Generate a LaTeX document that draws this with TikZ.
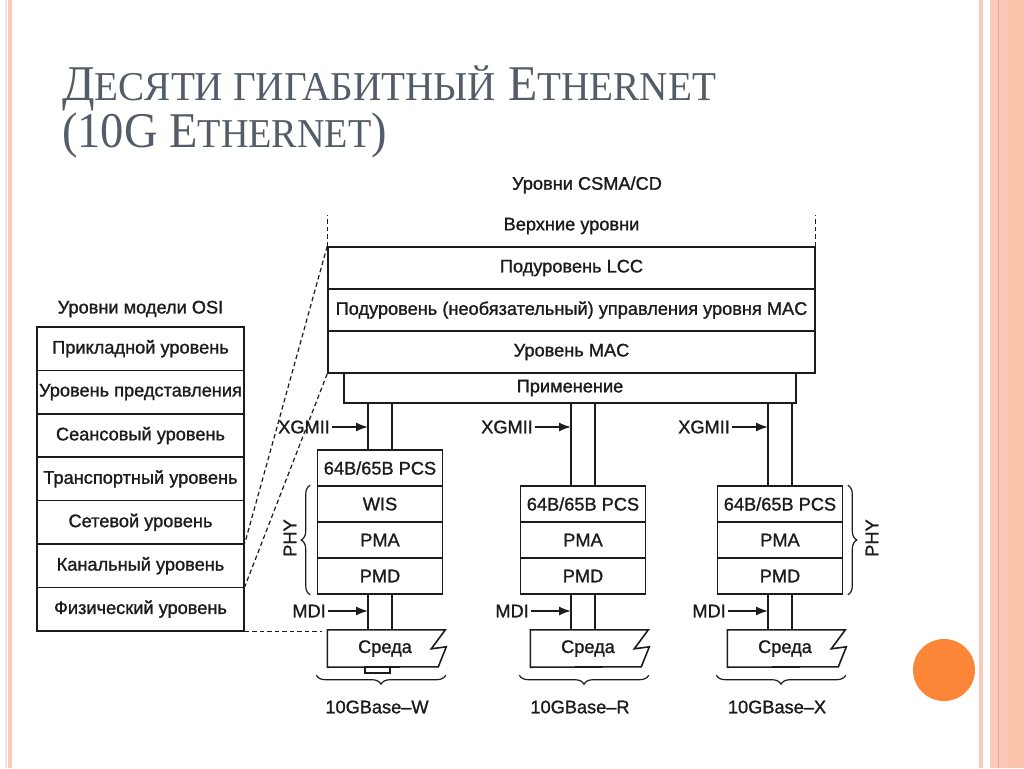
\documentclass[tikz,border=0pt]{standalone}
\usepackage{graphicx}
\usepackage{fontspec}
\setmainfont{Liberation Serif}
\newfontfamily\diagfont[FakeBold=1.2]{Liberation Sans}
\usetikzlibrary{arrows.meta,decorations.pathreplacing}
\definecolor{titlegray}{RGB}{84,92,104}
\definecolor{edgepink}{RGB}{250,201,185}
\definecolor{edgebeige}{RGB}{246,228,214}
\definecolor{edgeline}{RGB}{232,162,134}
\definecolor{dotorange}{RGB}{252,134,56}
\definecolor{ink}{RGB}{28,28,28}
\newcommand\smcap[1]{{\fontsize{41}{41}\selectfont #1}}

\begin{document}
\begin{tikzpicture}[x=1pt, y=-1pt,
  every node/.style={font=\diagfont\fontsize{18.2}{20}\selectfont, text=ink, inner sep=0pt},
  osi/.style={draw=ink, line width=1.6pt, minimum width=207pt, minimum height=43.4pt},
  csma/.style={draw=ink, line width=1.6pt, minimum width=487pt, minimum height=42pt},
  sub/.style={draw=ink, line width=1.6pt, minimum width=125pt, minimum height=36pt},
  medium/.style={minimum width=115pt, minimum height=37pt},
  pipe/.style={draw=ink, line width=1.6pt},
  dashln/.style={draw=ink, line width=1.2pt, dash pattern=on 4.5pt off 3pt},
  arr/.style={draw=ink, line width=1.5pt, -{Latex[length=12pt,width=9pt]}},
  brc/.style={draw=ink, line width=1.2pt, decorate, decoration={brace, amplitude=9pt}}]
\useasboundingbox (0,0) rectangle (1024,768);
\fill[white] (0,0) rectangle (1024,768);
% slide frame
\fill[edgebeige] (5,0) rectangle (6.5,768);
\fill[edgepink] (8,0) rectangle (12,768);
\fill[edgepink] (979,0) rectangle (983,768);
\fill[edgepink] (990,0) rectangle (1024,768);
\fill[edgepink!92!orange] (1008,0) rectangle (1024,768);
\draw[edgeline, line width=1pt] (998.5,0) -- (998.5,768);
\fill[dotorange] (944,670) circle[radius=31pt];
% title
\node[anchor=base west, font=\rmfamily\fontsize{50}{50}\selectfont, text=titlegray] (title1) at (62,100)
  {\scalebox{0.956}[1]{Д\smcap{ЕСЯТИ ГИГАБИТНЫЙ} E\smcap{THERNET}}};
\node[anchor=base west, font=\rmfamily\fontsize{50}{50}\selectfont, text=titlegray] (title2) at (62,147)
  {\scalebox{0.93}[1]{(10G E\smcap{THERNET})}};
% OSI stack
\node (ositit) at (140.5,309) {Уровни модели OSI};
\node[osi] (prikl) at (140.5,348.7) {Прикладной уровень};
\node[osi] (pred) at (140.5,392.1) {Уровень представления};
\node[osi] (seans) at (140.5,435.5) {Сеансовый уровень};
\node[osi] (transp) at (140.5,478.9) {Транспортный уровень};
\node[osi] (setev) at (140.5,522.3) {Сетевой уровень};
\node[osi] (kanal) at (140.5,565.7) {Канальный уровень};
\node[osi] (fiz) at (140.5,609.1) {Физический уровень};
% CSMA/CD stack
\node (csmatit) at (587,185) {Уровни CSMA/CD};
\node (verh) at (571.5,226) {Верхние уровни};
\node[csma] (llc) at (571.5,268) {Подуровень LCC};
\node[csma] (macctl) at (571.5,310) {Подуровень (необязательный) управления уровня MAC};
\node[csma] (mac) at (571.5,352) {Уровень MAC};
\node[draw=ink, line width=1.6pt, minimum width=452pt, minimum height=30pt] (app) at (570,388) {Применение};
% 10GBase-W
\node[sub] (pcsW) at (380,468) {64B/65B PCS};
\node[sub] (wisW) at (380,504) {WIS};
\node[sub] (pmaW) at (380,540) {PMA};
\node[sub] (pmdW) at (380,576) {PMD};
\node[medium] (medW) at (385,648.5) {Среда};
% 10GBase-R
\node[sub] (pcsR) at (583,504) {64B/65B PCS};
\node[sub] (pmaR) at (583,540) {PMA};
\node[sub] (pmdR) at (583,576) {PMD};
\node[medium] (medR) at (588,648.5) {Среда};
% 10GBase-X
\node[sub] (pcsX) at (780,504) {64B/65B PCS};
\node[sub] (pmaX) at (780,540) {PMA};
\node[sub] (pmdX) at (780,576) {PMD};
\node[medium] (medX) at (785,648.5) {Среда};
% media outlines
\draw[pipe] (medW.north west) -- ++(118,0) -- ++(-14,19) -- ++(15,-2) -- ++(-8,20) -- (medW.south west) -- cycle;
\draw[pipe] (medR.north west) -- ++(118,0) -- ++(-14,19) -- ++(15,-2) -- ++(-8,20) -- (medR.south west) -- cycle;
\draw[pipe] (medX.north west) -- ++(118,0) -- ++(-14,19) -- ++(15,-2) -- ++(-8,20) -- (medX.south west) -- cycle;
\draw[pipe] ([xshift=-20pt]medW.south) rectangle ++(25,6);
% pipes
\draw[pipe] ([xshift=-12pt]pcsW.north) -- ([xshift=-12pt]pcsW.north |- app.south);
\draw[pipe] ([xshift=12pt]pcsW.north) -- ([xshift=12pt]pcsW.north |- app.south);
\draw[pipe] ([xshift=-12pt]pcsR.north) -- ([xshift=-12pt]pcsR.north |- app.south);
\draw[pipe] ([xshift=12pt]pcsR.north) -- ([xshift=12pt]pcsR.north |- app.south);
\draw[pipe] ([xshift=-12pt]pcsX.north) -- ([xshift=-12pt]pcsX.north |- app.south);
\draw[pipe] ([xshift=12pt]pcsX.north) -- ([xshift=12pt]pcsX.north |- app.south);
\draw[pipe] ([xshift=-12pt]pmdW.south) -- ([xshift=-12pt]pmdW.south |- medW.north);
\draw[pipe] ([xshift=12pt]pmdW.south) -- ([xshift=12pt]pmdW.south |- medW.north);
\draw[pipe] ([xshift=-12pt]pmdR.south) -- ([xshift=-12pt]pmdR.south |- medR.north);
\draw[pipe] ([xshift=12pt]pmdR.south) -- ([xshift=12pt]pmdR.south |- medR.north);
\draw[pipe] ([xshift=-12pt]pmdX.south) -- ([xshift=-12pt]pmdX.south |- medX.north);
\draw[pipe] ([xshift=12pt]pmdX.south) -- ([xshift=12pt]pmdX.south |- medX.north);
% interface labels
\node[anchor=east] (xgmiiW) at (330,427) {XGMII};
\node[anchor=east] (xgmiiR) at (533,427) {XGMII};
\node[anchor=east] (xgmiiX) at (730,427) {XGMII};
\draw[arr] ([xshift=2pt]xgmiiW.east) -- ([xshift=-12pt]pcsW.north |- xgmiiW.east);
\draw[arr] ([xshift=2pt]xgmiiR.east) -- ([xshift=-12pt]pcsR.north |- xgmiiR.east);
\draw[arr] ([xshift=2pt]xgmiiX.east) -- ([xshift=-12pt]pcsX.north |- xgmiiX.east);
\node[anchor=east] (mdiW) at (326,611) {MDI};
\node[anchor=east] (mdiR) at (529,611) {MDI};
\node[anchor=east] (mdiX) at (726,611) {MDI};
\draw[arr] ([xshift=2pt]mdiW.east) -- ([xshift=-12pt]pmdW.south |- mdiW.east);
\draw[arr] ([xshift=2pt]mdiR.east) -- ([xshift=-12pt]pmdR.south |- mdiR.east);
\draw[arr] ([xshift=2pt]mdiX.east) -- ([xshift=-12pt]pmdX.south |- mdiX.east);
% PHY braces
\draw[brc] ([xshift=-6.5pt]pmdW.south west) -- ([xshift=-6.5pt]wisW.north west);
\node[rotate=90] (phyW) at (290,538) {PHY};
\draw[brc] ([xshift=4.5pt]pcsX.north east) -- ([xshift=4.5pt]pmdX.south east);
\node[rotate=90] (phyX) at (872,538) {PHY};
% base braces
\draw[brc] ([xshift=3pt,yshift=-8pt]medW.south east) -- ([xshift=-11pt,yshift=-8pt]medW.south west);
\draw[brc] ([xshift=3pt,yshift=-8pt]medR.south east) -- ([xshift=-11pt,yshift=-8pt]medR.south west);
\draw[brc] ([xshift=3pt,yshift=-8pt]medX.south east) -- ([xshift=-11pt,yshift=-8pt]medX.south west);
\node (baseW) at (377,707) {10GBase–W};
\node (baseR) at (580,707) {10GBase–R};
\node (baseX) at (777,707) {10GBase–X};
% dashed mapping
\draw[dashln] (llc.north west) -- ([yshift=31pt]llc.north west);
\draw[dashln] (llc.north east) -- ([yshift=31pt]llc.north east);
\draw[dashln] (llc.north west) -- (kanal.north east);
\draw[dashln] (mac.south west) -- (fiz.north east);
\draw[dashln] (fiz.south east) -- ([xshift=-5pt]medW.north west |- fiz.south east);
\end{tikzpicture}
\end{document}
